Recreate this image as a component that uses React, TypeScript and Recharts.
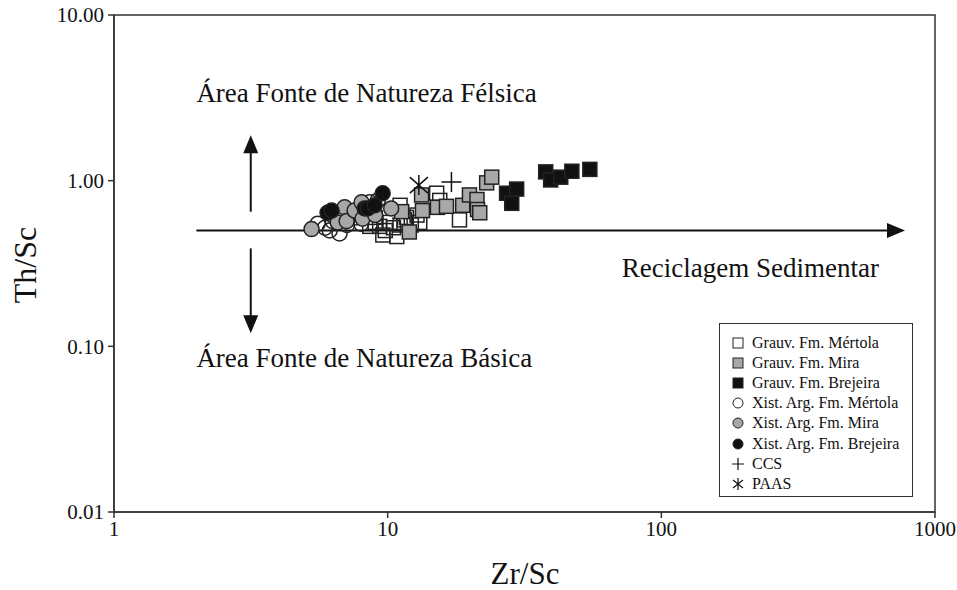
import {
  ScatterChart,
  Scatter,
  XAxis,
  YAxis,
  ReferenceLine,
  ReferenceDot,
  ReferenceArea,
  Legend,
} from 'recharts';

// Zr/Sc, Th/Sc pairs
const GRAUV_MERTOLA: [number, number][] = [
  [8.6, 0.53], [9.35, 0.53], [9.6, 0.47], [9.0, 0.56], [10.2, 0.56], [10.8, 0.46],
  [11.1, 0.54], [11.1, 0.71], [11.7, 0.6], [12.2, 0.54], [13.1, 0.56], [15.1, 0.84],
  [15.5, 0.76], [18.3, 0.58], [9.8, 0.5], [10.5, 0.52], [11.5, 0.58], [12.8, 0.62],
  [9.0, 0.6],
];
const GRAUV_MIRA: [number, number][] = [
  [11.25, 0.65], [12.0, 0.49], [13.3, 0.82], [13.4, 0.66], [15.2, 0.69], [16.4, 0.7],
  [18.8, 0.71], [19.9, 0.82], [21.2, 0.77], [21.3, 0.67], [21.7, 0.64], [23.0, 0.97],
  [24.0, 1.05],
];
const GRAUV_BREJEIRA: [number, number][] = [
  [27.2, 0.84], [29.6, 0.89], [28.4, 0.73], [37.8, 1.13], [39.4, 1.01], [42.9, 1.05],
  [47.1, 1.14], [54.8, 1.17],
];
const XIST_MERTOLA: [number, number][] = [
  [5.55, 0.55], [6.14, 0.5], [6.67, 0.48], [7.1, 0.54], [7.7, 0.6], [8.6, 0.74],
  [9.2, 0.76], [5.9, 0.52], [6.3, 0.57], [8.0, 0.55],
];
const XIST_MIRA: [number, number][] = [
  [5.27, 0.51], [6.57, 0.56], [6.96, 0.69], [7.08, 0.57], [7.57, 0.66], [8.03, 0.74],
  [8.1, 0.59], [10.3, 0.68], [9.0, 0.62],
];
const XIST_BREJEIRA: [number, number][] = [
  [6.03, 0.64], [6.24, 0.66], [8.24, 0.68], [8.45, 0.68], [8.97, 0.71], [9.59, 0.84],
];
const CCS: [number, number][] = [[17.1, 0.98]];
const PAAS: [number, number][] = [[13.0, 0.94]];

const X_TICKS = [1, 10, 100, 1000];
const Y_TICKS = [0.01, 0.1, 1, 10];

const FONT = '"Liberation Serif", "Times New Roman", serif';
const INK = '#111';
const GRAY = '#a8a8a8';

const toPoints = (pairs: [number, number][]) => pairs.map(([x, y]) => ({ x, y }));

const square = (fill: string) => (p: any) => (
  <rect x={p.cx - 7} y={p.cy - 7} width={14} height={14} fill={fill} stroke="#222" strokeWidth={1.5} />
);
const circle = (fill: string) => (p: any) => (
  <circle cx={p.cx} cy={p.cy} r={7.5} fill={fill} stroke="#222" strokeWidth={1.5} />
);
const plus = (p: any) => (
  <path d={`M${p.cx - 10},${p.cy}H${p.cx + 10}M${p.cx},${p.cy - 10}V${p.cy + 10}`} stroke={INK} strokeWidth={1.5} />
);
const star = (p: any) => (
  <path
    d={`M${p.cx},${p.cy - 10}V${p.cy + 10}M${p.cx - 9},${p.cy - 8}L${p.cx + 9},${p.cy + 8}M${p.cx + 9},${p.cy - 8}L${p.cx - 9},${p.cy + 8}`}
    stroke={INK}
    strokeWidth={1.5}
  />
);

const SERIES = [
  { name: 'Grauv. Fm. Mértola', data: GRAUV_MERTOLA, shape: square('none'), icon: 'sq', fill: '#fff' },
  { name: 'Grauv. Fm. Mira', data: GRAUV_MIRA, shape: square(GRAY), icon: 'sq', fill: GRAY },
  { name: 'Grauv. Fm. Brejeira', data: GRAUV_BREJEIRA, shape: square(INK), icon: 'sq', fill: INK },
  { name: 'Xist. Arg. Fm. Mértola', data: XIST_MERTOLA, shape: circle('none'), icon: 'ci', fill: '#fff' },
  { name: 'Xist. Arg. Fm. Mira', data: XIST_MIRA, shape: circle(GRAY), icon: 'ci', fill: GRAY },
  { name: 'Xist. Arg. Fm. Brejeira', data: XIST_BREJEIRA, shape: circle(INK), icon: 'ci', fill: INK },
  { name: 'CCS', data: CCS, shape: plus, icon: 'plus', fill: INK },
  { name: 'PAAS', data: PAAS, shape: star, icon: 'star', fill: INK },
];

const arrowHead = (dir: 'right' | 'up' | 'down') => (p: any) => {
  const { cx, cy } = p;
  let pts = '';
  if (dir === 'right') pts = `${cx},${cy} ${cx - 18},${cy - 7.5} ${cx - 18},${cy + 7.5}`;
  if (dir === 'up') pts = `${cx},${cy} ${cx - 7.5},${cy + 18} ${cx + 7.5},${cy + 18}`;
  if (dir === 'down') pts = `${cx},${cy} ${cx - 7.5},${cy - 18} ${cx + 7.5},${cy - 18}`;
  return <polygon points={pts} fill={INK} />;
};

const note = (text: string) => (p: any) => (
  <text x={p.cx} y={p.cy} fontFamily={FONT} fontSize={27} fill={INK} dominantBaseline="central">
    {text}
  </text>
);

function LegendIcon({ kind, fill }: { kind: string; fill: string }) {
  return (
    <svg width={14} height={14} style={{ marginRight: 7, flexShrink: 0 }}>
      {kind === 'sq' && <rect x={2} y={2} width={10} height={10} fill={fill} stroke="#222" strokeWidth={1} />}
      {kind === 'ci' && <circle cx={7} cy={7} r={5} fill={fill} stroke="#222" strokeWidth={1} />}
      {kind === 'plus' && <path d="M1,7H13M7,1V13" stroke={INK} strokeWidth={1.2} />}
      {kind === 'star' && <path d="M2,3L12,11M12,3L2,11M7,1V13" stroke={INK} strokeWidth={1.2} />}
    </svg>
  );
}

function LegendBox() {
  return (
    <div
      style={{
        border: '1.5px solid #333',
        padding: '9px 0 4px 11px',
        width: 181,
        height: 159,
        background: '#fff',
        fontFamily: FONT,
        fontSize: 16,
        color: INK,
      }}
    >
      {SERIES.map((s) => (
        <div key={s.name} style={{ display: 'flex', alignItems: 'center', height: 20.1 }}>
          <LegendIcon kind={s.icon} fill={s.fill} />
          <span>{s.name}</span>
        </div>
      ))}
    </div>
  );
}

export default function App() {
  return (
    <div style={{ position: 'absolute', left: 0, top: 0, background: '#fff' }}>
      <ScatterChart width={957} height={590} margin={{ top: 15, right: 22, bottom: 38, left: 0 }}>
        <XAxis
          type="number"
          dataKey="x"
          scale="log"
          domain={[1, 1000]}
          ticks={X_TICKS}
          allowDataOverflow
          height={40}
          tickSize={6}
          tickMargin={3}
          stroke="#333"
          strokeWidth={1.5}
          tick={{ fill: INK, fontFamily: FONT, fontSize: 21 }}
          label={{
            content: () => (
              <text x={525} y={584} textAnchor="middle" fontFamily={FONT} fontSize={31} fill={INK}>
                Zr/Sc
              </text>
            ),
          }}
        />
        <YAxis
          type="number"
          dataKey="y"
          scale="log"
          domain={[0.01, 10]}
          ticks={Y_TICKS}
          allowDataOverflow
          width={114}
          tickSize={6}
          tickMargin={4}
          stroke="#333"
          strokeWidth={1.5}
          tickFormatter={(v: number) => v.toFixed(2)}
          tick={{ fill: INK, fontFamily: FONT, fontSize: 21 }}
          label={{
            content: () => (
              <text
                x={25}
                y={265}
                transform="rotate(-90 25 265)"
                textAnchor="middle"
                dominantBaseline="central"
                fontFamily={FONT}
                fontSize={32}
                fill={INK}
              >
                Th/Sc
              </text>
            ),
          }}
        />
        <ReferenceArea x1={1} x2={1000} y1={0.01} y2={10} fill="none" stroke="#333" strokeWidth={1.5} />

        <ReferenceLine segment={[{ x: 2, y: 0.5 }, { x: 740, y: 0.5 }]} stroke={INK} strokeWidth={2} />
        <ReferenceDot x={777} y={0.5} r={0} shape={arrowHead('right')} />
        <ReferenceLine segment={[{ x: 3.16, y: 0.65 }, { x: 3.16, y: 1.6 }]} stroke={INK} strokeWidth={2} />
        <ReferenceDot x={3.16} y={1.88} r={0} shape={arrowHead('up')} />
        <ReferenceLine segment={[{ x: 3.16, y: 0.39 }, { x: 3.16, y: 0.14 }]} stroke={INK} strokeWidth={2} />
        <ReferenceDot x={3.16} y={0.12} r={0} shape={arrowHead('down')} />

        <ReferenceDot x={2.0} y={3.38} r={0} shape={note('Área Fonte de Natureza Félsica')} />
        <ReferenceDot x={2.0} y={0.085} r={0} shape={note('Área Fonte de Natureza Básica')} />
        <ReferenceDot x={71.7} y={0.297} r={0} shape={note('Reciclagem Sedimentar')} />

        {SERIES.map((s) => (
          <Scatter key={s.name} name={s.name} data={toPoints(s.data)} shape={s.shape} isAnimationActive={false} />
        ))}

        <Legend
          layout="horizontal"
          verticalAlign="middle"
          align="center"
          content={() => <LegendBox />}
          wrapperStyle={{ left: 719, top: 323, width: 194 }}
        />
      </ScatterChart>
    </div>
  );
}
